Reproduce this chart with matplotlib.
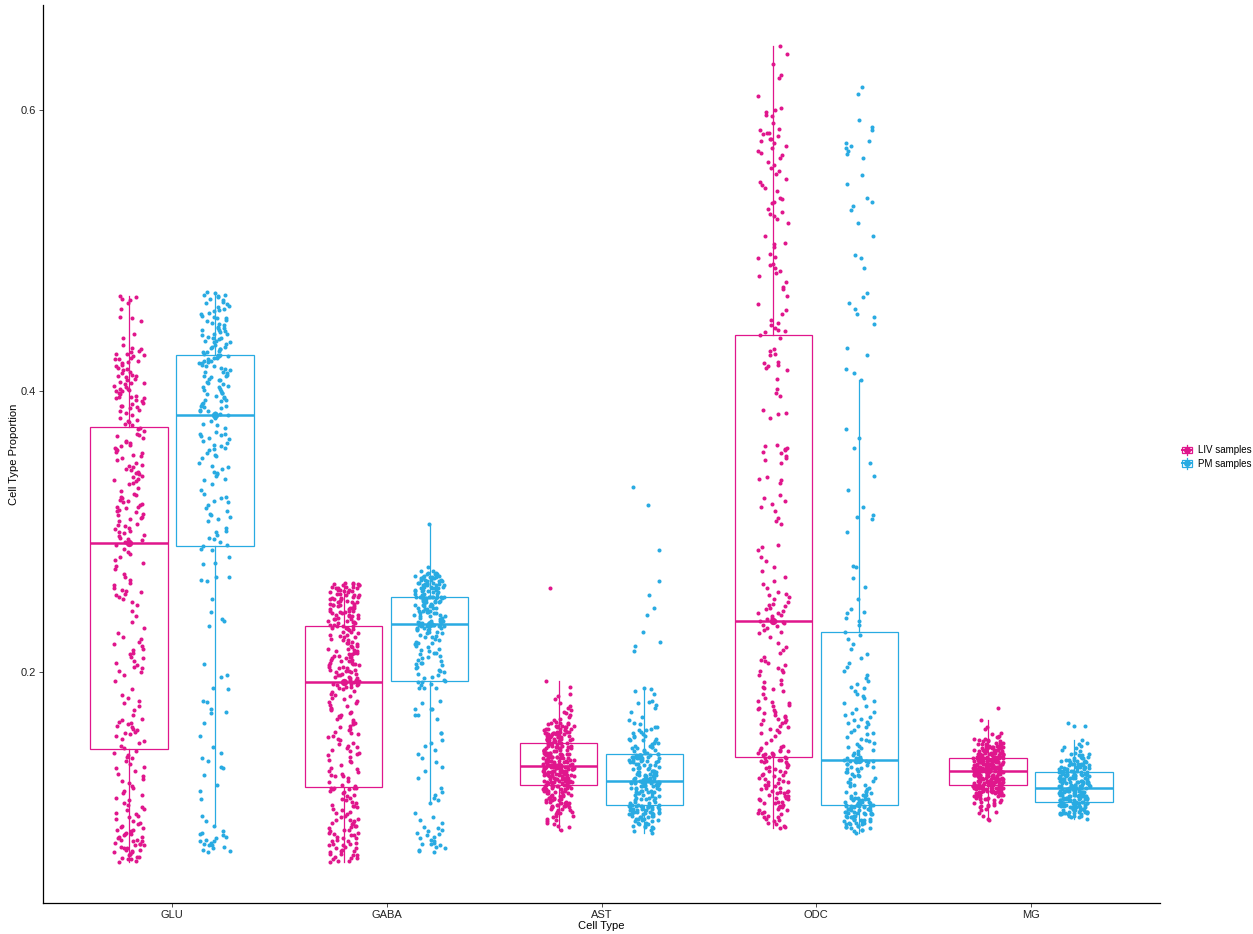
import numpy as np
import matplotlib
matplotlib.use('Agg')
import matplotlib.pyplot as plt
from matplotlib.patches import Rectangle
from matplotlib.lines import Line2D

plt.rcParams['font.family'] = ['Liberation Sans', 'DejaVu Sans']

cell_types = ['GLU', 'GABA', 'AST', 'ODC', 'MG']
groups = ['LIV samples', 'PM samples']
group_colors = ['#E0168C', '#29ABE2']

# cell type proportions, in thousandths (value / 1000)
GLU_LIV = [
 65,66,67,67,68,69,69,70,71,71,72,72,73,74,74,75,75,76,77,77,78,78,79,80,80,81,81,82,83,83,
 84,85,85,86,87,88,88,89,90,91,92,93,94,96,97,98,99,100,102,103,104,106,107,109,111,113,114,116,118,119,
 121,123,124,126,128,130,132,133,135,137,139,140,141,143,144,
 146,148,150,151,153,155,156,157,158,159,160,161,162,163,164,165,166,167,170,173,176,178,180,182,184,
 188,194,198,200,201,203,204,205,207,208,210,211,213,214,216,217,219,220,222,224,225,228,232,236,240,
 244,248,250,252,254,255,256,257,258,259,260,262,264,266,268,270,274,276,278,280,282,284,286,288,291,
 293,294,295,296,297,298,299,300,301,302,303,304,305,306,308,309,310,311,312,313,314,315,316,317,318,
 318,319,320,321,322,323,324,325,326,327,329,331,334,335,336,337,338,339,340,341,342,342,343,344,345,
 346,347,348,349,351,353,354,355,356,357,358,359,360,361,362,363,364,365,367,368,369,370,372,373,374,
 376,377,378,379,380,381,383,385,386,387,388,389,390,390,391,392,393,394,395,395,396,396,397,398,399,
 400,400,401,402,402,403,404,405,406,406,407,408,409,410,411,411,412,413,414,415,416,417,418,419,420,
 421,422,423,423,424,425,426,427,427,428,429,430,431,433,438,441,450,452,453,459,463,465,466,467,468]
GLU_PM = [
 72,73,74,75,76,77,77,78,79,80,80,81,82,83,84,85,86,87,91,94,98,110,116,120,127,132,133,137,139,143,
 147,155,164,171,172,174,179,180,188,189,197,198,206,233,237,238,243,252,265,266,268,268,277,278,282,287,288,290,
 291,293,295,296,298,300,301,303,308,309,311,312,313,315,317,319,321,322,324,325,327,330,334,337,338,340,
 341,342,343,345,346,347,349,353,354,355,356,358,359,360,361,362,363,365,366,367,368,369,370,370,371,374,
 376,377,379,381,383,
 384,385,386,386,387,388,389,390,390,391,392,393,394,394,395,396,397,398,399,399,400,401,402,403,403,404,
 405,406,407,408,408,409,410,411,411,412,413,414,414,415,416,417,418,418,419,420,420,421,422,422,423,424,
 424,425,425,425,425,
 426,426,427,428,428,429,430,430,431,432,432,433,434,435,435,436,437,438,438,439,440,441,441,442,443,444,
 445,445,446,447,448,449,450,451,452,453,454,455,456,457,458,459,460,461,462,463,464,465,466,467,468,469,
 469,470,471,444,436,452]
GABA_LIV = [
 65,66,66,67,68,68,69,70,70,71,71,72,73,73,74,75,75,76,77,77,78,78,79,80,80,81,82,82,83,84,
 84,85,86,86,87,88,88,89,90,91,91,92,93,93,94,95,95,96,97,98,99,100,101,102,103,104,105,105,106,107,
 108,109,110,111,112,113,114,115,116,117,117,118,118,118,118,
 119,120,122,123,125,126,126,127,128,129,130,131,132,134,136,137,138,140,141,142,143,144,145,146,147,
 148,149,150,152,153,154,155,156,157,158,159,160,161,162,163,164,165,166,167,168,169,170,171,172,173,
 174,175,176,177,178,179,180,181,182,183,184,185,186,187,188,189,190,190,191,191,192,192,192,193,193,
 193,194,194,195,195,196,196,197,197,198,198,199,199,200,200,201,201,202,202,203,203,204,204,205,205,
 206,206,207,207,208,208,209,209,210,210,211,211,212,212,213,213,214,214,215,215,216,217,217,218,219,
 219,220,221,221,222,223,223,224,225,225,226,227,227,228,229,229,230,231,231,232,232,232,233,233,233,
 234,234,235,235,236,236,237,237,238,238,239,239,240,240,241,241,242,242,243,243,244,244,245,245,246,
 246,247,247,248,248,249,249,250,250,251,251,252,252,253,253,254,254,255,255,256,256,257,257,258,258,
 259,259,259,260,260,260,261,261,261,262,262,262,263,263,263,264,264,250,246,241,255,252,248,244,238]
GABA_PM = [
 72,73,74,75,76,77,78,78,79,80,81,82,83,84,85,86,87,88,89,90,93,95,97,100,107,109,111,113,115,118,
 125,130,133,136,139,142,145,148,150,152,157,157,167,170,170,174,174,174,178,180,189,189,189,191,192,193,193,194,
 195,196,197,198,199,200,201,202,203,204,205,206,207,207,208,209,210,211,212,213,214,214,215,216,217,218,
 219,220,221,221,222,223,224,225,225,226,227,228,228,229,229,230,230,231,231,232,232,232,233,233,233,233,
 234,234,234,234,234,
 235,235,236,236,237,237,237,238,238,239,239,240,240,240,241,241,242,242,242,243,243,244,244,244,245,245,
 246,246,246,247,247,248,248,248,249,249,250,250,250,251,251,251,252,252,252,253,253,253,253,254,254,254,
 254,254,254,254,254,
 254,255,255,256,256,257,257,258,258,259,259,259,260,260,260,261,261,261,262,262,262,263,263,263,264,264,
 264,265,265,265,266,266,266,267,267,267,268,268,268,269,269,269,270,270,270,271,271,272,256,258,260,262,
 264,266,268,272,275,306]
AST_LIV = [
 88,90,91,92,93,94,95,96,97,98,98,99,100,100,101,101,102,102,103,103,104,104,104,105,105,105,106,106,106,107,
 107,107,108,108,108,109,109,109,110,110,110,111,111,111,112,112,112,113,113,113,114,114,114,115,115,115,115,
 116,116,116,116,117,117,117,117,118,118,118,118,119,119,119,119,119,119,
 120,120,120,120,121,121,121,121,121,122,122,122,122,122,123,123,123,123,123,124,124,124,124,124,125,125,
 125,125,125,126,126,126,126,126,127,127,127,127,127,127,128,128,128,128,128,129,129,129,129,129,129,130,
 130,130,130,130,130,131,131,131,131,131,131,132,132,132,132,132,132,133,133,133,133,133,133,
 134,134,134,134,134,134,135,135,135,135,135,136,136,136,136,136,137,137,137,137,137,138,138,138,138,138,
 139,139,139,139,139,140,140,140,140,140,141,141,141,141,141,142,142,142,142,142,143,143,143,143,144,144,
 144,144,145,145,145,145,146,146,146,146,147,147,147,147,148,148,148,148,149,149,149,150,150,
 150,150,150,151,151,151,151,151,152,152,152,152,153,153,153,153,153,154,154,154,154,155,155,155,155,155,
 156,156,156,156,157,157,157,157,157,158,158,158,158,159,159,159,160,160,160,160,161,161,161,162,162,162,
 162,163,163,164,164,164,165,166,167,168,170,171,172,173,175,176,178,181,183,185,190,194,260]
AST_PM = [
 86,87,88,89,90,90,91,91,92,92,93,93,94,94,95,95,96,96,96,97,97,97,98,98,98,99,99,99,100,100,
 100,100,101,101,101,101,102,102,102,102,103,103,103,103,104,104,104,104,104,105,105,105,105,105,105,106,106,106,
 106,107,107,108,108,109,109,110,110,111,111,111,112,112,113,113,114,114,114,115,115,115,116,116,116,117,
 117,117,118,118,118,119,119,119,119,120,120,120,120,121,121,121,121,121,122,122,122,122,122,122,123,123,
 123,123,123,123,123,
 123,124,124,124,125,125,125,126,126,126,127,127,127,128,128,128,129,129,129,130,130,130,131,131,132,132,
 132,133,133,134,134,134,135,135,136,136,136,137,137,137,138,138,138,139,139,139,139,140,140,140,140,141,
 141,141,141,141,141,
 142,142,143,143,144,144,145,145,146,146,147,147,148,148,149,150,150,151,152,153,153,154,155,155,156,157,
 158,159,160,161,161,163,164,166,168,172,175,177,178,179,180,185,187,188,189,159,152,
 215,219,222,229,241,246,255,265,287,319,332]
ODC_LIV = [
 89,90,91,92,93,94,95,96,97,97,98,99,100,100,101,102,102,103,104,104,105,105,106,107,107,108,108,109,110,110,
 111,111,112,112,113,114,114,115,115,116,116,117,118,118,119,120,120,121,122,122,123,124,124,125,126,127,127,
 128,129,130,130,131,132,133,133,134,135,136,136,137,137,138,138,139,139,
 140,140,141,141,142,142,143,143,144,144,145,145,146,147,148,150,152,155,157,158,159,160,161,162,163,
 164,165,166,166,167,168,169,170,171,172,173,174,175,176,177,178,179,180,182,185,187,188,189,190,192,
 193,195,198,200,201,202,203,205,207,208,209,211,214,216,218,221,225,228,229,230,232,233,234,235,236,
 237,237,238,239,240,241,242,242,244,245,246,247,248,249,250,252,254,255,256,257,260,263,265,268,272,
 275,279,282,287,289,291,306,308,310,315,318,320,322,324,326,335,337,338,339,349,351,353,354,356,357,
 358,359,360,361,362,381,384,385,387,397,399,402,409,415,417,418,419,420,421,426,427,429,430,438,440,
 646,640,633,625,623,610,602,600,599,597,596,591,587,586,584,584,583,582,580,578,577,575,573,571,570,
 568,566,563,561,559,557,555,551,549,547,545,543,538,537,535,534,528,526,525,523,511,506,505,503,498,
 496,495,491,490,488,486,484,478,474,473,462,458,451,449,447,444,443,442,445,455,468,482,520,530,580]
ODC_PM = [
 86,87,88,88,89,89,90,90,91,91,92,92,92,93,93,93,94,94,94,95,95,95,96,96,96,97,97,97,98,98,
 98,99,99,99,100,100,100,100,101,101,101,102,102,102,103,103,103,103,104,104,104,104,105,105,105,105,106,106,
 106,106,107,107,107,108,108,108,109,109,109,110,110,110,111,111,111,112,112,113,113,114,114,115,115,116,
 117,118,119,120,120,121,122,123,124,125,126,126,127,128,129,129,130,131,131,132,133,133,134,135,135,136,
 136,137,137,137,137,
 138,138,139,139,140,141,142,143,144,145,146,147,148,149,150,151,152,153,154,156,157,158,159,161,162,163,
 164,165,166,167,168,170,171,172,174,176,178,180,182,183,185,187,189,190,192,194,196,198,201,204,207,210,
 213,217,220,224,227,
 229,234,237,239,242,243,245,252,261,267,275,276,300,309,311,312,318,330,340,349,360,367,373,408,
 413,416,426,431,448,453,455,459,463,467,470,488,495,497,511,520,529,532,535,538,548,554,566,569,571,573,
 575,577,578,586,588,593,612,617]
MG_LIV = [
 95,96,98,100,101,102,103,104,105,105,106,106,107,107,108,108,109,109,110,110,110,111,111,111,112,112,112,113,113,113,
 113,114,114,114,114,115,115,115,115,115,116,116,116,116,116,116,117,117,117,117,117,117,117,118,118,118,118,
 118,118,118,118,119,119,119,119,119,119,119,119,119,119,119,119,119,119,
 120,120,120,120,120,120,121,121,121,121,121,121,121,122,122,122,122,122,122,122,123,123,123,123,123,123,
 123,124,124,124,124,124,124,124,125,125,125,125,125,125,125,126,126,126,126,126,126,126,127,127,127,127,
 127,127,127,128,128,128,128,128,128,128,129,129,129,129,129,129,129,130,130,130,130,130,130,
 130,130,130,131,131,131,131,131,131,131,131,132,132,132,132,132,132,132,132,133,133,133,133,133,133,133,
 133,134,134,134,134,134,134,134,134,135,135,135,135,135,135,135,135,136,136,136,136,136,136,136,136,137,
 137,137,137,137,137,137,137,138,138,138,138,138,138,138,138,139,139,139,139,139,139,139,139,
 139,139,139,139,140,140,140,140,140,140,141,141,141,141,141,141,142,142,142,142,142,142,143,143,143,143,
 143,144,144,144,144,144,145,145,145,145,145,146,146,146,146,146,146,147,147,147,147,148,148,148,148,148,
 149,149,149,149,150,150,150,151,151,151,152,152,153,153,154,154,155,156,157,160,161,166,175]
MG_PM = [
 96,97,97,98,98,98,99,99,99,99,100,100,100,100,100,101,101,101,101,101,102,102,102,102,102,103,103,103,103,103,
 104,104,104,104,104,104,105,105,105,105,105,105,106,106,106,106,106,106,107,107,107,107,107,107,107,107,108,108,
 108,108,108,109,109,109,109,109,109,110,110,110,110,110,110,111,111,111,111,111,111,112,112,112,112,112,
 112,113,113,113,113,113,113,114,114,114,114,114,114,115,115,115,115,115,116,116,116,116,116,117,117,117,
 117,117,118,118,118,
 118,118,119,119,119,119,119,120,120,120,120,120,121,121,121,121,121,122,122,122,122,122,123,123,123,123,
 123,124,124,124,124,124,125,125,125,125,125,126,126,126,126,126,127,127,127,127,127,128,128,128,128,128,
 129,129,129,129,129,
 129,129,129,130,130,130,130,130,131,131,131,131,132,132,132,132,133,133,133,133,134,134,134,134,135,135,
 135,135,136,136,136,137,137,137,138,138,138,139,139,139,140,140,141,141,142,142,143,144,145,146,147,148,
 149,150,152,162,164,162]

values = {
    ('GLU', 'LIV samples'): GLU_LIV, ('GLU', 'PM samples'): GLU_PM,
    ('GABA', 'LIV samples'): GABA_LIV, ('GABA', 'PM samples'): GABA_PM,
    ('AST', 'LIV samples'): AST_LIV, ('AST', 'PM samples'): AST_PM,
    ('ODC', 'LIV samples'): ODC_LIV, ('ODC', 'PM samples'): ODC_PM,
    ('MG', 'LIV samples'): MG_LIV, ('MG', 'PM samples'): MG_PM,
}

W, H = 1253, 934
fig = plt.figure(figsize=(W / 100, H / 100), dpi=100)
ax = fig.add_axes([43 / W, 31 / H, (1160 - 43) / W, (903 - 5) / H])

dodge = 0.2
box_w = 0.36
jit = 0.072
all_vals = []
for i, ct in enumerate(cell_types):
    for j, g in enumerate(groups):
        c = group_colors[j]
        v = np.asarray(values[(ct, g)], dtype=float) / 1000.0
        all_vals.append(v)
        pos = i + 1 + (-dodge if j == 0 else dodge)
        ax.boxplot(v, positions=[pos], widths=box_w, whis=1.5, showfliers=False,
                   showcaps=False, patch_artist=True, manage_ticks=False,
                   boxprops=dict(facecolor='none', edgecolor=c, linewidth=0.9),
                   medianprops=dict(color=c, linewidth=1.8),
                   whiskerprops=dict(color=c, linewidth=0.9), zorder=2)
        n = len(v)
        k = np.arange(n) + 1000 * (2 * i + j)
        # deterministic hashed horizontal jitter (position only, like geom_jitter)
        frac = (np.sin(k * 12.9898 + 78.233) * 43758.5453) % 1.0
        xs = pos + (frac - 0.5) * 2 * jit
        ax.scatter(xs, v, s=8.5, color=c, linewidths=0, zorder=3)
        ax.scatter([pos], [np.median(v)], s=28, color=c, linewidths=0, zorder=4)

allv = np.concatenate(all_vals)
lo, hi = allv.min(), allv.max()
pad = 0.05 * (hi - lo)
ax.set_ylim(lo - pad, hi + pad)
ax.set_xlim(0.4, len(cell_types) + 0.6)
ax.set_xticks(np.arange(1, len(cell_types) + 1))
ax.set_xticklabels(cell_types)
ax.set_yticks([0.2, 0.4, 0.6])
ax.set_yticklabels(['0.2', '0.4', '0.6'])
ax.tick_params(axis='both', length=3, width=0.6, color='#333333',
               labelsize=8, labelcolor='#222222', pad=2)
for s in ['top', 'right']:
    ax.spines[s].set_visible(False)
for s in ['left', 'bottom']:
    ax.spines[s].set_linewidth(0.9)
    ax.spines[s].set_color('black')
ax.set_xlabel('Cell Type', fontsize=8, labelpad=1)
ax.set_ylabel('Cell Type Proportion', fontsize=8, labelpad=1.5)


class BoxKeyHandler:
    def legend_artist(self, legend, orig_handle, fontsize, handlebox):
        c = orig_handle.get_color()
        x0, y0 = -handlebox.xdescent, -handlebox.ydescent
        w, h = handlebox.width, handlebox.height
        tr = handlebox.get_transform()
        rect = Rectangle((x0 + 0.12 * w, y0 + 0.15 * h), 0.76 * w, 0.7 * h,
                         facecolor='white', edgecolor=c, linewidth=0.9, transform=tr)
        vline = Line2D([x0 + 0.5 * w] * 2, [y0 - 0.05 * h, y0 + 1.05 * h], color=c,
                       linewidth=0.9, transform=tr)
        hline = Line2D([x0 + 0.12 * w, x0 + 0.88 * w], [y0 + 0.5 * h] * 2, color=c,
                       linewidth=1.4, transform=tr)
        dot = Line2D([x0 + 0.5 * w], [y0 + 0.5 * h], color=c, marker='o', markersize=4,
                     linestyle='none', transform=tr)
        for a in (rect, vline, hline, dot):
            handlebox.add_artist(a)
        return rect


handles = [Line2D([], [], color=c) for c in group_colors]
fig.legend(handles=handles, labels=groups, handler_map={Line2D: BoxKeyHandler()},
           loc='center left', bbox_to_anchor=(1172 / W, 1 - 457 / H), frameon=False,
           fontsize=7, handlelength=1.3, handleheight=1.1, handletextpad=0.5,
           labelspacing=0.35)

fig.savefig('out.png', dpi=100)
